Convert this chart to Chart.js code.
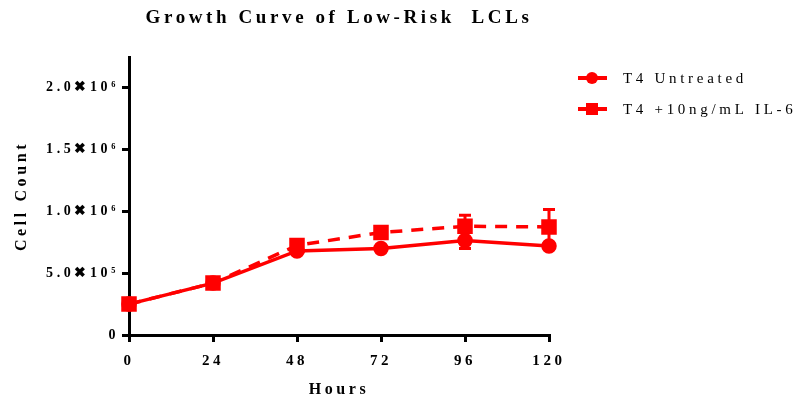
<!DOCTYPE html>
<html>
<head>
<title>Growth Curve of Low-Risk LCLs</title>
<style>
  html, body { margin: 0; padding: 0; background: #fff; }
</style>
</head>
<body>
<canvas id="growthChart" width="803" height="399"></canvas>
<script src="https://cdn.jsdelivr.net/npm/chart.js"></script>
<script>
// values
const hours = [0, 24, 48, 72, 96, 120];
const untreated = [250000, 420000, 680000, 700000, 765000, 720000];
const untreatedErr = [0, 0, 0, 10000, 65000, 20000];
const treated = [250000, 420000, 725000, 830000, 880000, 875000];
const treatedErr = [0, 0, 20000, 30000, 90000, 140000];
const seriesNames = ['T4 Untreated', 'T4 +10ng/mL IL-6'];
const yTicks = [0, 500000, 1000000, 1500000, 2000000];
const yTickLabels = ['0', '5.0\u271610\u2075', '1.0\u271610\u2076', '1.5\u271610\u2076', '2.0\u271610\u2076'];

const RED = '#ff0000';
const SERIF = '"Liberation Serif", "Times New Roman", serif';

const spacingPlugin = {
    id: 'spacing',
    beforeLayout(chart) { chart.ctx.letterSpacing = '3.6px'; },
    beforeDraw(chart) { chart.ctx.letterSpacing = '3.6px'; }
};

// error bars from the named arrays, placed with the chart's scales
const errorBars = {
    id: 'errorBars',
    afterDatasetsDraw(chart) {
        const ctx = chart.ctx;
        const ys = chart.scales.y;
        chart.data.datasets.forEach((ds, i) => {
            const meta = chart.getDatasetMeta(i);
            ds.errors.forEach((e, j) => {
                if (!e) return;
                const pt = meta.data[j];
                const top = ys.getPixelForValue(ds.data[j].y + e);
                const bot = ys.getPixelForValue(ds.data[j].y - e);
                ctx.save();
                ctx.strokeStyle = RED;
                ctx.lineWidth = 3;
                ctx.beginPath();
                ctx.moveTo(pt.x, top); ctx.lineTo(pt.x, bot);
                ctx.moveTo(pt.x - 6, top); ctx.lineTo(pt.x + 6, top);
                ctx.moveTo(pt.x - 6, bot); ctx.lineTo(pt.x + 6, bot);
                ctx.stroke();
                ctx.restore();
            });
        });
    }
};

// title and legend drawn by hand for their own letter spacing
const titleLegend = {
    id: 'titleLegend',
    afterDraw(chart) {
        const ctx = chart.ctx;
        const area = chart.chartArea;
        ctx.save();
        ctx.fillStyle = '#000';
        ctx.font = 'bold 19px ' + SERIF;
        ctx.letterSpacing = '3.6px';
        ctx.textAlign = 'center';
        ctx.textBaseline = 'middle';
        ctx.fillText('Growth Curve of Low-Risk  LCLs', (area.left + area.right) / 2, 18);

        ctx.font = '15px ' + SERIF;
        ctx.letterSpacing = '3.7px';
        ctx.textAlign = 'left';
        const rows = [78, 109];
        chart.data.datasets.forEach((ds, i) => {
            const y = rows[i];
            ctx.strokeStyle = RED;
            ctx.fillStyle = RED;
            ctx.lineWidth = 4;
            ctx.setLineDash([]);
            ctx.beginPath();
            ctx.moveTo(578, y); ctx.lineTo(607, y);
            ctx.stroke();
            ctx.beginPath();
            if (ds.pointStyle === 'circle') {
                ctx.arc(592, y, 6, 0, Math.PI * 2);
            } else {
                ctx.rect(586, y - 6, 12, 12);
            }
            ctx.fill();
            ctx.fillStyle = '#000';
            ctx.fillText(ds.label, 623, y + 1);
        });
        ctx.restore();
    }
};

const toPoints = vals => hours.map((h, i) => ({ x: h, y: vals[i] }));

new Chart(document.getElementById('growthChart'), {
    type: 'line',
    data: {
        datasets: [
            {
                label: seriesNames[0],
                data: toPoints(untreated),
                errors: untreatedErr,
                borderColor: RED,
                backgroundColor: RED,
                borderWidth: 3.5,
                pointStyle: 'circle',
                pointRadius: 6,
                pointHoverRadius: 6,
                clip: false,
                order: 2
            },
            {
                label: seriesNames[1],
                data: toPoints(treated),
                errors: treatedErr,
                borderColor: RED,
                backgroundColor: RED,
                borderWidth: 3.5,
                borderDash: [12, 9],
                pointStyle: 'rect',
                pointRadius: 8.5,
                pointHoverRadius: 8.5,
                clip: false,
                order: 1
            }
        ]
    },
    options: {
        responsive: false,
        animation: false,
        layout: { padding: { top: 57, right: 254, left: 0, bottom: 0 } },
        plugins: {
            legend: { display: false },
            title: { display: false },
            tooltip: { enabled: false }
        },
        scales: {
            x: {
                type: 'linear',
                min: 0,
                max: 120,
                afterFit: s => { s.height = 64; },
                ticks: {
                    stepSize: 24,
                    color: '#000',
                    padding: 10,
                    maxRotation: 0,
                    font: { family: SERIF, size: 15, weight: 'bold' }
                },
                grid: { drawOnChartArea: false, color: '#000', lineWidth: 3, tickLength: 7 },
                border: { color: '#000', width: 3 },
                title: {
                    display: true,
                    text: 'Hours',
                    color: '#000',
                    padding: { top: 0, bottom: 0 },
                    font: { family: SERIF, size: 16, weight: 'bold' }
                }
            },
            y: {
                min: 0,
                max: 2250000,
                afterFit: s => { s.width = 129; },
                afterBuildTicks: s => { s.ticks = yTicks.map(v => ({ value: v })); },
                ticks: {
                    color: '#000',
                    padding: 3,
                    callback: (v, i) => yTickLabels[i],
                    font: { family: SERIF, size: 14, weight: 'bold' }
                },
                grid: { drawOnChartArea: false, color: '#000', lineWidth: 3, tickLength: 7 },
                border: { color: '#000', width: 3 },
                title: {
                    display: true,
                    text: 'Cell Count',
                    color: '#000',
                    padding: { top: 12, bottom: 0 },
                    font: { family: SERIF, size: 16, weight: 'bold' }
                }
            }
        }
    },
    plugins: [spacingPlugin, errorBars, titleLegend]
});
</script>
</body>
</html>
